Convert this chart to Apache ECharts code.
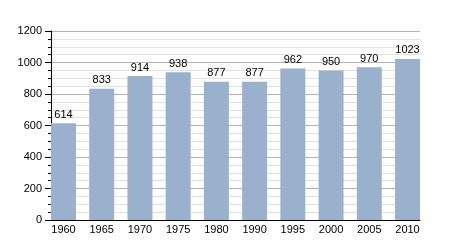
<!DOCTYPE html>
<html><head><meta charset="utf-8">
<script src="https://cdn.jsdelivr.net/npm/echarts@6/dist/echarts.min.js"></script>
<style>html,body{margin:0;padding:0;background:#fff}#c{width:450px;height:250px}</style>
</head><body><div id="c"></div>
<script>
const categories = ['1960','1965','1970','1975','1980','1990','1995','2000','2005','2010'];
const values = [614, 833, 914, 938, 877, 877, 962, 950, 970, 1023];
const yTicks = [0, 200, 400, 600, 800, 1000, 1200];

const font = 'Liberation Sans, Arial, sans-serif';
const idx = categories.map((c, i) => i);
const chart = echarts.init(document.getElementById('c'), null, {renderer: 'canvas'});
chart.setOption({
  animation: false,
  grid: {left: 51, right: 30, top: 31, bottom: 30},
  xAxis: {
    type: 'value',
    min: -0.327, max: categories.length - 1 + 0.327,
    axisLine: {show: true, onZero: false, lineStyle: {color: '#000', width: 1}},
    axisTick: {show: false},
    splitLine: {show: false},
    axisLabel: {
      color: '#000', fontSize: 11, margin: 4, fontFamily: font,
      customValues: idx,
      formatter: v => categories[Math.round(v)]
    }
  },
  yAxis: {
    type: 'value',
    min: yTicks[0], max: yTicks[yTicks.length - 1], interval: 200,
    axisLine: {show: true, onZero: false, lineStyle: {color: '#000', width: 1}},
    axisTick: {show: true, length: 6, lineStyle: {color: '#000'}},
    minorTick: {show: true, splitNumber: 4, length: 3, lineStyle: {color: '#000'}},
    splitLine: {show: true, lineStyle: {color: '#b4b4b4', width: 1}},
    minorSplitLine: {show: true, lineStyle: {color: '#e2e2e2', width: 1}},
    axisLabel: {color: '#000', fontSize: 11, margin: 9, fontFamily: font, formatter: v => String(v)}
  },
  series: [{
    type: 'bar',
    data: values.map((v, i) => [i, v]),
    barWidth: 25,
    itemStyle: {color: '#9ab1cd'},
    label: {show: true, position: 'top', color: '#000', fontSize: 11, distance: 3, fontFamily: font,
      formatter: p => String(p.value[1])}
  }]
});
</script></body></html>
